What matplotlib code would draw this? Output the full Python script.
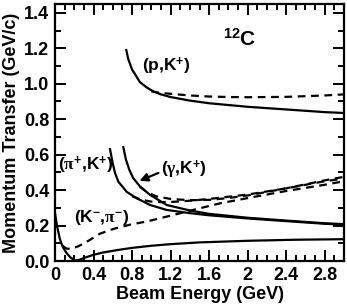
import matplotlib
matplotlib.use("Agg")
import matplotlib.pyplot as plt
from matplotlib.ticker import MultipleLocator, FixedLocator

plt.rcParams['font.family'] = ['Liberation Sans', 'DejaVu Sans']
plt.rcParams['font.weight'] = 'bold'
plt.rcParams['mathtext.fontset'] = 'custom'
plt.rcParams['mathtext.rm'] = 'Liberation Sans:bold'
plt.rcParams['mathtext.bf'] = 'Liberation Sans:bold'
plt.rcParams['mathtext.it'] = 'Liberation Serif'

# ---- data ----
pK_solid_x = [0.74, 0.76, 0.78, 0.80, 0.83, 0.88, 0.95, 1.02, 1.10, 1.20, 1.40, 1.60, 1.80, 2.00, 2.40, 2.80, 3.00]
pK_solid_y = [1.19, 1.14, 1.11, 1.08, 1.055, 1.01, 0.98, 0.957, 0.94, 0.925, 0.905, 0.89, 0.88, 0.87, 0.855, 0.84, 0.835]

pK_dash_x = [1.00, 1.10, 1.27, 1.40, 1.60, 1.82, 2.00, 2.40, 2.80, 3.00]
pK_dash_y = [0.957, 0.948, 0.94, 0.934, 0.928, 0.925, 0.924, 0.926, 0.934, 0.94]

piK_solid_x = [0.571, 0.599, 0.623, 0.657, 0.745, 0.848, 0.987, 1.16, 1.40, 1.60, 2.00, 2.40, 2.80, 3.00]
piK_solid_y = [0.631, 0.552, 0.497, 0.448, 0.390, 0.354, 0.316, 0.288, 0.27, 0.258, 0.24, 0.225, 0.21, 0.205]

gK_solid_x = [0.709, 0.737, 0.772, 0.813, 0.883, 0.987, 1.16, 1.40, 1.60, 2.00, 2.40, 2.80, 3.00]
gK_solid_y = [0.642, 0.571, 0.514, 0.467, 0.42, 0.373, 0.316, 0.285, 0.266, 0.244, 0.228, 0.213, 0.208]

gK_dash_x = [0.88, 0.95, 1.05, 1.20, 1.40, 1.60, 1.80, 2.00, 2.40, 2.80, 3.00]
gK_dash_y = [0.42, 0.39, 0.365, 0.35, 0.343, 0.345, 0.355, 0.37, 0.41, 0.455, 0.475]

piK_dash_x = [0.80, 0.90, 1.00, 1.10, 1.20, 1.40, 1.60, 2.00, 2.40, 2.80, 3.00]
piK_dash_y = [0.365, 0.345, 0.335, 0.332, 0.333, 0.34, 0.35, 0.375, 0.41, 0.45, 0.465]

Kpi_solid_x = [0.0, 0.02, 0.05, 0.08, 0.12, 0.16, 0.21, 0.25, 0.30, 0.40, 0.50, 0.65, 0.80, 1.00, 1.20, 1.50, 2.00, 2.50, 3.00]
Kpi_solid_y = [0.27, 0.20, 0.125, 0.08, 0.045, 0.02, 0.003, 0.006, 0.017, 0.035, 0.048, 0.062, 0.074, 0.086, 0.095, 0.105, 0.114, 0.12, 0.123]

Kpi_dash_x = [0.08, 0.12, 0.17, 0.25, 0.35, 0.47, 0.60, 0.78, 0.97, 1.23, 1.41, 1.71, 2.00, 2.40, 2.80, 3.00]
Kpi_dash_y = [0.085, 0.07, 0.068, 0.085, 0.115, 0.155, 0.18, 0.205, 0.225, 0.26, 0.285, 0.325, 0.355, 0.395, 0.43, 0.45]

x_ticks = [0, 0.4, 0.8, 1.2, 1.6, 2.0, 2.4, 2.8]
x_ticklabels = ['0', '0.4', '0.8', '1.2', '1.6', '2', '2.4', '2.8']
y_ticks = [0.0, 0.2, 0.4, 0.6, 0.8, 1.0, 1.2, 1.4]
y_ticklabels = ['0.0', '0.2', '0.4', '0.6', '0.8', '1.0', '1.2', '1.4']

# ---- figure ----
fig = plt.figure(figsize=(3.47, 3.07), dpi=100)
ax = fig.add_axes([55/347, 46/307, 289/347, 257/307])

lw = 1.6
dash = (3.5, 2.5)
ax.plot(pK_solid_x, pK_solid_y, 'k-', lw=lw)
ax.plot(pK_dash_x, pK_dash_y, 'k--', lw=lw, dashes=dash)
ax.plot(piK_solid_x, piK_solid_y, 'k-', lw=lw)
ax.plot(gK_solid_x, gK_solid_y, 'k-', lw=lw)
ax.plot(gK_dash_x, gK_dash_y, 'k--', lw=lw, dashes=dash)
ax.plot(piK_dash_x, piK_dash_y, 'k--', lw=lw, dashes=dash)
ax.plot(Kpi_solid_x, Kpi_solid_y, 'k-', lw=lw)
ax.plot(Kpi_dash_x, Kpi_dash_y, 'k--', lw=lw, dashes=dash)

ax.set_xlim(0, 3.0)
ax.set_ylim(0, 1.45)
ax.xaxis.set_major_locator(FixedLocator(x_ticks))
ax.set_xticklabels(x_ticklabels)
ax.yaxis.set_major_locator(FixedLocator(y_ticks))
ax.set_yticklabels(y_ticklabels)
ax.xaxis.set_minor_locator(MultipleLocator(0.1))
ax.yaxis.set_minor_locator(MultipleLocator(0.1))
ax.tick_params(which='both', direction='in', top=True, right=True, width=1.4, labelsize=13, pad=4)
ax.tick_params(which='major', length=8)
ax.tick_params(which='minor', length=4)
for s in ax.spines.values():
    s.set_linewidth(1.6)

ax.set_xlabel('Beam Energy (GeV)', fontsize=13, fontweight='bold', labelpad=2)
ax.set_ylabel('Momentum Transfer (GeV/c)', fontsize=13, fontweight='bold', labelpad=3)

tk = dict(fontsize=12.5, fontweight='bold', ha='center', va='center')
ax.text(1.15, 1.10, r'(p,K$^{+}$)', **tk)
ax.text(1.34, 0.514, r'($\gamma$,K$^{+}$)', **tk)
ax.text(0.32, 0.542, r'($\pi^{+}$,K$^{+}$)', **tk)
ax.text(0.49, 0.243, r'(K$^{-}$,$\pi^{-}$)', **tk)
ax.text(1.92, 1.25, r'$^{12}$C', fontsize=15, fontweight='bold', ha='center', va='center')

ax.annotate('', xy=(0.85, 0.446), xytext=(1.10, 0.503),
            arrowprops=dict(arrowstyle='-|>', lw=1.6, color='k', mutation_scale=12))

fig.savefig('out.png', dpi=100)
